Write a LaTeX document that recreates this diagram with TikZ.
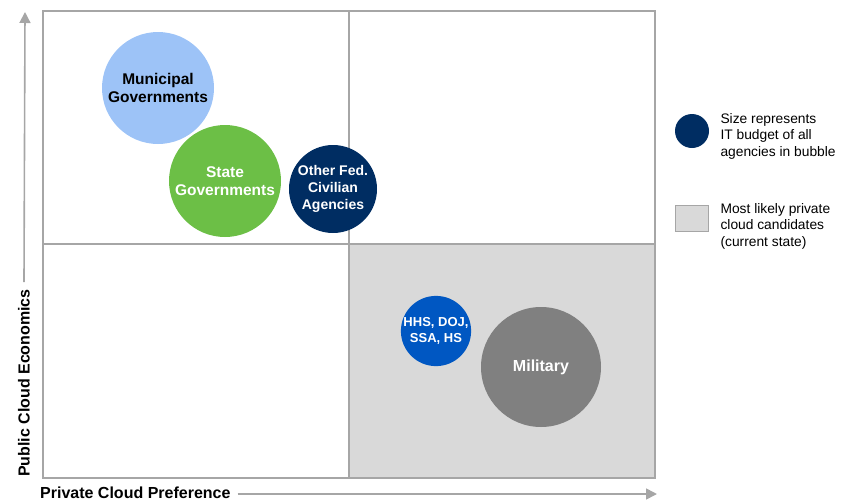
\documentclass[tikz,border=0pt]{standalone}
\usepackage{fontspec}
\setmainfont{Liberation Sans}
\usepackage{tikz}
\usetikzlibrary{arrows.meta}

\definecolor{gridgray}{HTML}{A6A6A6}
\definecolor{candgray}{HTML}{D9D9D9}
\definecolor{muni}{HTML}{9DC3F7}
\definecolor{stategreen}{HTML}{6CBF46}
\definecolor{fednavy}{HTML}{002D62}
\definecolor{hhsblue}{HTML}{0057C2}
\definecolor{milgray}{HTML}{808080}

\tikzset{
  bubble/.style={circle, inner sep=0pt, align=center, font=\bfseries\fontsize{15.5}{18}\selectfont, text=white},
  legendtext/.style={anchor=west, align=left, font=\fontsize{13.8}{16.5}\selectfont},
  axislabel/.style={inner sep=0pt, font=\bfseries\fontsize{16}{18}\selectfont},
  axisarrow/.style={gridgray, line width=1.6pt, -{Triangle[length=11pt, width=11pt]}}
}

\begin{document}
\begin{tikzpicture}[x=1pt, y=-1pt]
	\useasboundingbox (0,0) rectangle (844,501);

	% quadrants
	\fill[candgray] (349,244) rectangle (655,478);
	\draw[gridgray, line width=1.5pt] (43,11) rectangle (655,478);
	\draw[gridgray, line width=1.5pt] (349,11) -- (349,478);
	\draw[gridgray, line width=1.5pt] (43,244) -- (655,244);

	% axes
	\node[axislabel, rotate=90] (ylab) at (24,383) {Public Cloud Economics};
	\node[axislabel, anchor=west] (xlab) at (40,493) {Private Cloud Preference};
	\coordinate (ytip) at (25,12);
	\coordinate (xtip) at (657,494);
	\draw[axisarrow] (ylab.east) ++(0,-7) -- (ytip);
	\draw[axisarrow] (xlab.east) ++(7,1) -- (xtip);

	% bubbles
	\node[bubble, fill=muni, text=black, minimum size=112pt] (muni) at (158,88) {Municipal\\Governments};
	\node[bubble, fill=stategreen, minimum size=112pt] (state) at (225,181) {State\\Governments};
	\node[bubble, fill=fednavy, minimum size=88pt, font=\bfseries\fontsize{14}{17}\selectfont] (fed) at (333,189) {Other Fed.\\Civilian\\Agencies};
	\node[bubble, fill=hhsblue, minimum size=69pt, font=\bfseries\fontsize{13}{16}\selectfont] (hhs) at (436,331) {HHS, DOJ,\\SSA, HS};
	\node[bubble, fill=milgray, minimum size=120pt, font=\bfseries\fontsize{16}{18}\selectfont] (mil) at (541,367) {Military};

	% legend
	\node[circle, fill=fednavy, minimum size=34pt, inner sep=0pt] (legsize) at (692,131) {};
	\node[legendtext] (legsizetext) at (717,136) {Size represents\\IT budget of all\\agencies in bubble};
	\node[draw=gridgray, fill=candgray, line width=1pt, minimum width=33pt, minimum height=26pt, inner sep=0pt] (legcand) at (691.5,218) {};
	\node[legendtext] (legcandtext) at (717,226) {Most likely private\\cloud candidates\\(current state)};

\end{tikzpicture}
\end{document}
